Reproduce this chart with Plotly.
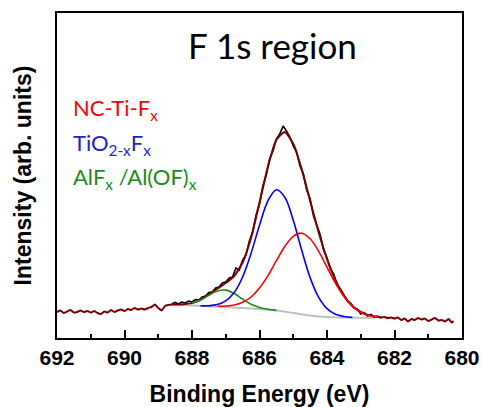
import plotly.graph_objects as go

# ---------------- data ----------------
# raw spectrum, left noisy baseline (dark red)
x_left = [692.0, 691.9, 691.8, 691.7, 691.6, 691.5, 691.4, 691.3, 691.2, 691.1,
          691.0, 690.9, 690.8, 690.7, 690.6, 690.5, 690.4, 690.3, 690.2, 690.1,
          690.0, 689.9, 689.8, 689.7, 689.6, 689.5, 689.4, 689.3, 689.2, 689.1,
          689.0, 688.9, 688.8, 688.7, 688.6]
y_left = [26, 27.5, 25, 26.5, 28, 25.5, 26, 27.5, 26, 27,
          25.5, 27, 25, 24, 26.5, 25.5, 28, 26, 27.5, 28.5,
          27, 29, 28, 30, 28.5, 29.5, 28.5, 30, 31, 33.5,
          30, 27.5, 32, 33, 33.5]

# fitted envelope (dark red)
x_env = [688.5, 688.25, 688.0, 687.75, 687.5, 687.25, 687.0, 686.75, 686.5, 686.25,
         686.0, 685.75, 685.5, 685.25, 685.0, 684.75, 684.5, 684.25, 684.0, 683.75,
         683.5, 683.25, 683.0, 682.75, 682.5]
y_env = [33.5, 33.8, 34.9, 38.1, 43.5, 49.4, 55.0, 61.9, 75.5, 100.3,
         135.3, 171.6, 198.2, 206.0, 194.4, 168.9, 137.1, 106.0, 79.1, 57.8,
         42.4, 32.1, 26.0, 22.6, 21.0]

# raw spectrum, right noisy baseline (dark red)
x_right = [682.4, 682.3, 682.2, 682.1, 682.0, 681.9, 681.8, 681.7, 681.6, 681.5,
           681.4, 681.3, 681.2, 681.1, 681.0, 680.9, 680.8, 680.7, 680.6, 680.5,
           680.4, 680.3, 680.25]
y_right = [20.5, 21, 20, 20.5, 19.5, 20.5, 18, 19.5, 16.5, 19,
           18, 20, 18.5, 19.5, 17, 18.5, 20, 17.5, 18, 16.5,
           19, 15.5, 17]

# raw data in the peak region (black)
x_raw = [688.6, 688.5, 688.4, 688.3, 688.2, 688.1, 688.0, 687.9, 687.8, 687.7,
         687.6, 687.5, 687.4, 687.3, 687.2, 687.1, 687.0, 686.9, 686.8, 686.7,
         686.6, 686.5, 686.4, 686.3, 686.2, 686.1, 686.0, 685.9, 685.8, 685.7,
         685.6, 685.5, 685.4, 685.3, 685.2, 685.1, 685.0, 684.9, 684.8, 684.7,
         684.6, 684.5, 684.4, 684.3, 684.2, 684.1, 684.0, 683.9, 683.8, 683.7,
         683.6, 683.5, 683.4, 683.3, 683.2, 683.1, 683.0, 682.9, 682.8, 682.7,
         682.6, 682.5, 682.4]
y_raw = [34, 35.5, 34, 36, 35, 37, 36, 38.5, 38, 41,
         42, 45.5, 46, 50, 51, 55, 56, 60, 61, 70,
         68, 78, 83, 97, 106, 123, 134, 152, 163, 179,
         187, 199, 204, 212, 207, 201, 192, 186, 172, 164,
         148, 139, 122, 113, 103, 88, 80, 69, 64, 53,
         49, 43, 37, 35, 30, 29, 24, 25.5, 22, 23.5,
         21, 22, 20]

# background (gray)
x_bg = [688.6, 688.25, 688.0, 687.5, 687.0, 686.5, 686.0, 685.5, 685.0, 684.5,
        684.0, 683.5, 683.0, 682.6]
y_bg = [33.5, 33.0, 32.5, 31.7, 31.0, 30.0, 29.0, 27.5, 25.0, 22.5,
        21.0, 20.5, 20.2, 20.0]

# component NC-Ti-Fx (red)
x_red = [687.25, 687.0, 686.75, 686.5, 686.25, 686.0, 685.75, 685.5, 685.25, 685.0,
         684.75, 684.5, 684.25, 684.0, 683.75, 683.5, 683.25, 683.0, 682.75, 682.5]
y_red = [31.7, 32.0, 33.0, 35.7, 41.0, 49.9, 62.4, 77.3, 91.5, 101.7,
         104.8, 99.2, 86.9, 70.8, 54.8, 41.4, 31.8, 25.9, 22.6, 21.0]

# component TiO2-xFx (blue)
x_blue = [687.75, 687.5, 687.25, 687.0, 686.75, 686.5, 686.25, 686.0, 685.75, 685.5,
          685.25, 685.0, 684.75, 684.5, 684.25, 684.0, 683.75, 683.5, 683.25]
y_blue = [32.2, 32.3, 33.4, 37.1, 45.4, 61.0, 84.6, 112.8, 137.1, 148.3,
          140.8, 117.7, 87.9, 60.4, 40.8, 29.3, 23.7, 21.5, 20.6]

# component AlFx/Al(OF)x (green)
x_green = [688.0, 687.75, 687.5, 687.25, 687.0, 686.75, 686.5, 686.25, 686.0, 685.75, 685.5]
y_green = [34.9, 37.9, 42.7, 46.9, 47.9, 44.5, 38.8, 33.7, 30.6, 28.7, 27.6]

labels = ["NC-Ti-F<sub>x</sub>", "TiO<sub>2-x</sub>F<sub>x</sub>", "AlF<sub>x</sub> /Al(OF)<sub>x</sub>"]
label_colors = ["#FF0000", "#1F1FC8", "#1A8C1A"]
title_text = "F 1s region"
x_ticks = [692, 690, 688, 686, 684, 682, 680]

# ---------------- figure ----------------
fig = go.Figure()
fig.add_trace(go.Scatter(x=x_bg, y=y_bg, mode="lines", line=dict(color="#C0C0C0", width=2, shape="spline")))
fig.add_trace(go.Scatter(x=x_raw, y=y_raw, mode="lines", line=dict(color="black", width=1.6)))
fig.add_trace(go.Scatter(x=x_left + x_env + x_right, y=y_left + y_env + y_right, mode="lines",
                         line=dict(color="#7A0000", width=2, shape="spline", smoothing=0.5)))
fig.add_trace(go.Scatter(x=x_green, y=y_green, mode="lines", line=dict(color=label_colors[2], width=1.6, shape="spline")))
fig.add_trace(go.Scatter(x=x_blue, y=y_blue, mode="lines", line=dict(color="#0000FF", width=1.6, shape="spline")))
fig.add_trace(go.Scatter(x=x_red, y=y_red, mode="lines", line=dict(color="#FF0000", width=1.6, shape="spline")))

label_y = [0.705, 0.596, 0.492]
for t, c, yy in zip(labels, label_colors, label_y):
    fig.add_annotation(text=t, x=0.035, y=yy, xref="paper", yref="paper", xanchor="left", yanchor="middle",
                       showarrow=False, font=dict(family="Lato", size=22, color=c))

fig.add_annotation(text=title_text, x=0.531, y=0.90, xref="paper", yref="paper", xanchor="center",
                   yanchor="middle", showarrow=False, font=dict(family="Lato", size=35, color="black"))

fig.update_layout(
    width=481, height=407, margin=dict(l=57, r=19, t=13, b=69, autoexpand=False),
    paper_bgcolor="white", plot_bgcolor="white", showlegend=False,
    font=dict(family="Liberation Sans, Arial", color="black"),
)
fig.update_xaxes(range=[692, 680], autorange=False, tickvals=x_ticks, ticks="inside", ticklen=8, tickwidth=2,
                 tickcolor="black", showline=True, linecolor="black", linewidth=2, mirror=True,
                 showgrid=False, zeroline=False, automargin=False,
                 minor=dict(tickvals=[691, 689, 687, 685, 683, 681], ticks="inside", ticklen=4, tickwidth=2,
                            tickcolor="black", showgrid=False),
                 tickfont=dict(size=21, family="Liberation Sans, Arial", weight="bold"),
                 title=dict(text="<b>Binding Energy (eV)</b>", font=dict(size=23), standoff=20))
fig.update_yaxes(range=[0, 325], autorange=False, showticklabels=False, ticks="", showline=True,
                 linecolor="black", linewidth=2, mirror=True, showgrid=False, zeroline=False, automargin=False,
                 title=dict(text="<b>Intensity (arb. units)</b>", font=dict(size=23), standoff=17))

fig.write_html("out.html")
